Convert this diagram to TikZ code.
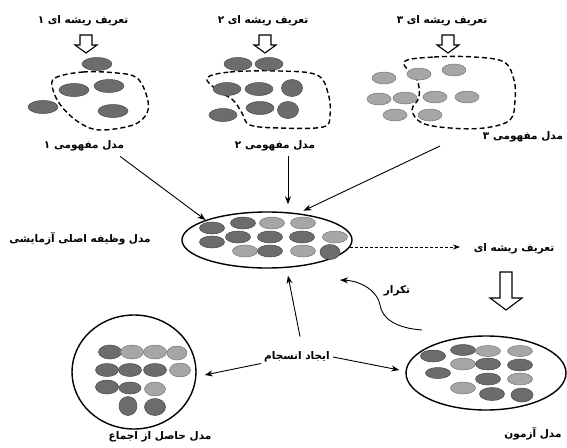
\documentclass[tikz,border=0pt]{standalone}
\usepackage{fontspec}
\usetikzlibrary{arrows.meta,shapes.geometric}
\TeXXeTstate=1
\newfontfamily\farsifont[Script=Arabic]{DejaVu Sans Bold}
\newcommand{\fatxt}[1]{{\farsifont\beginR #1\endR}}
\definecolor{dkfill}{HTML}{6C6C6C}
\definecolor{dkline}{HTML}{484848}
\definecolor{ltfill}{HTML}{A6A6A6}
\definecolor{ltline}{HTML}{787878}
\newcommand{\ball}[5]{\path[#1] (#2,#3) ellipse [x radius=#4pt, y radius=#5pt];}
\newcommand{\harrow}[6]{\draw[hollowarr] ({#1-#3},#2) -- ({#1+#3},#2) -- ({#1+#3},{#2+#4}) -- ({#1+#5},{#2+#4}) -- (#1,{#2+#4+#6}) -- ({#1-#5},{#2+#4}) -- ({#1-#3},{#2+#4}) -- cycle;}
\begin{document}
\begin{tikzpicture}[x=1pt,y=-1pt,
  lbl/.style={font=\farsifont\fontsize{10.5}{12}\selectfont, inner sep=1pt},
  dk/.style={fill=dkfill, draw=dkline, line width=0.5pt},
  lt/.style={fill=ltfill, draw=ltline, line width=0.5pt},
  blob/.style={draw, line width=1.4pt, dash pattern=on 5pt off 3pt},
  bigell/.style={ellipse, draw, line width=1.4pt, inner sep=0pt},
  arr/.style={-{Stealth[length=8pt,width=6pt]}, line width=0.9pt},
  dasharr/.style={-{Stealth[length=7pt,width=5pt]}, line width=0.8pt, dash pattern=on 3pt off 2pt},
  hollowarr/.style={draw, line width=1.1pt, fill=white}]
\useasboundingbox (0,0) rectangle (567,447);
\fill[white] (0,0) rectangle (567,447);

% ---- labels ----
\node[lbl] (r1) at (83,21) {\fatxt{تعریف ریشه ای ۱}};
\node[lbl] (r2) at (263,21) {\fatxt{تعریف ریشه ای ۲}};
\node[lbl] (r3) at (442,21) {\fatxt{تعریف ریشه ای ۳}};
\node[lbl] (m1) at (84,146) {\fatxt{مدل مفهومی ۱}};
\node[lbl] (m2) at (275,146) {\fatxt{مدل مفهومی ۲}};
\node[lbl] (m3) at (523,137) {\fatxt{مدل مفهومی ۳}};
\node[lbl] (L) at (80,239) {\fatxt{مدل وظیفه اصلی آزمایشی}};
\node[lbl] (R) at (514,249) {\fatxt{تعریف ریشه ای}};
\node[lbl] (T) at (397,291) {\fatxt{تکرار}};
\node[lbl] (E) at (297,357) {\fatxt{ایجاد انسجام}};
\node[lbl] (BL) at (160,437) {\fatxt{مدل حاصل از اجماع}};
\node[lbl] (DL) at (533,434) {\fatxt{مدل آزمون}};

% ---- hollow arrows ----
\harrow{86}{35}{6}{10}{11}{8}
\harrow{265}{35}{6}{10}{11}{8}
\harrow{448}{35}{6}{10}{11}{8}
\harrow{506}{272}{6}{26}{16}{12}

% ---- group 1 ----
\draw[blob] plot[smooth cycle, tension=0.6] coordinates {(55,78) (83,72) (117,73) (137,78) (147,97) (147,113) (133,125) (100,130) (80,123) (62,107) (53,90)};
\ball{dk}{97}{64}{15}{6.5}
\ball{dk}{74}{90}{15}{6.5}
\ball{dk}{109}{86}{15}{6.5}
\ball{dk}{43}{107}{15}{6.5}
\ball{dk}{113}{111}{15}{6.5}

% ---- group 2 ----
\draw[blob] plot[smooth cycle, tension=0.6] coordinates {(207,78) (230,72) (280,71) (317,75) (328,93) (330,115) (323,127) (280,128) (250,125) (242,113) (233,100) (217,90)};
\ball{dk}{238}{64}{14}{6.5}
\ball{dk}{269}{64}{14}{6.5}
\ball{dk}{227}{89}{14}{6.5}
\ball{dk}{259}{89}{14}{6.5}
\ball{dk}{292}{88}{10.5}{8.5}
\ball{dk}{223}{115}{14}{6.5}
\ball{dk}{260}{108}{14}{6.5}
\ball{dk}{288}{110}{10.5}{8.5}

% ---- group 3 ----
\draw[blob] plot[smooth cycle, tension=0.6] coordinates {(404,62) (434,57) (474,57) (504,62) (514,80) (515,100) (510,120) (484,128) (450,128) (422,123) (412,110) (419,97) (417,80)};
\ball{lt}{384}{78}{12}{6}
\ball{lt}{419}{74}{12}{6}
\ball{lt}{454}{70}{12}{6}
\ball{lt}{379}{99}{12}{6}
\ball{lt}{405}{98}{12}{6}
\ball{lt}{435}{97}{12}{6}
\ball{lt}{467}{97}{12}{6}
\ball{lt}{395}{115}{12}{6}
\ball{lt}{430}{115}{12}{6}

% ---- central ellipse ----
\node[bigell, minimum width=170pt, minimum height=56pt] (C) at (267,240) {};
\ball{dk}{212}{228}{12.5}{6}
\ball{dk}{243}{223}{12.5}{6}
\ball{lt}{272}{223}{12.5}{6}
\ball{lt}{303}{223}{12.5}{6}
\ball{dk}{212}{242}{12.5}{6}
\ball{dk}{238}{237}{12.5}{6}
\ball{dk}{270}{237}{12.5}{6}
\ball{dk}{302}{237}{12.5}{6}
\ball{lt}{335}{237}{12.5}{6}
\ball{lt}{245}{251}{12.5}{6}
\ball{dk}{270}{251}{12.5}{6}
\ball{lt}{303}{251}{12.5}{6}
\ball{dk}{330}{252}{10}{7.5}

% ---- bottom-left circle ----
\node[bigell, minimum width=124pt, minimum height=114pt] (B) at (134,372) {};
\ball{dk}{110}{352}{11.5}{7}
\ball{lt}{132}{352}{11.5}{7}
\ball{lt}{155}{352}{11.5}{7}
\ball{lt}{177}{353}{10}{7}
\ball{dk}{107}{370}{11.5}{6.5}
\ball{dk}{130}{370}{11.5}{6.5}
\ball{dk}{155}{370}{11.5}{6.5}
\ball{lt}{180}{370}{10.5}{7}
\ball{dk}{107}{387}{11.5}{7}
\ball{dk}{130}{388}{11}{6}
\ball{lt}{155}{389}{10.5}{7}
\ball{dk}{128}{406}{9}{9.5}
\ball{dk}{155}{407}{10.5}{8.5}

% ---- bottom-right ellipse ----
\node[bigell, minimum width=160pt, minimum height=74pt] (D) at (486,373) {};
\ball{dk}{433}{356}{12.5}{6}
\ball{dk}{463}{350}{12.5}{5.5}
\ball{lt}{488}{351}{12.5}{5.5}
\ball{lt}{520}{351}{12.5}{5.5}
\ball{lt}{463}{364}{12.5}{6}
\ball{dk}{488}{364}{12.5}{6}
\ball{dk}{520}{365}{12.5}{6}
\ball{dk}{438}{373}{12.5}{5.5}
\ball{dk}{488}{379}{12.5}{6}
\ball{lt}{520}{379}{12.5}{6}
\ball{lt}{463}{388}{12.5}{6}
\ball{dk}{492}{394}{12.5}{6.5}
\ball{dk}{522}{395}{11}{7}

% ---- connectors ----
\draw[arr] ([xshift=-5pt,yshift=-4pt]m1.south east) -- (C.162);
\draw[arr] ([xshift=13pt,yshift=-4pt]m2.south) -- ([xshift=21pt,yshift=7pt]C.north);
\coordinate (m3s) at (440,146);
\draw[arr] (m3s) -- ([xshift=-4pt,yshift=4pt]C.32);
\coordinate (dend) at (460,247);
\draw[dasharr] ([xshift=-3pt,yshift=-7pt]C.east) -- (dend);
\coordinate (cs) at (422,330);
\coordinate (ce) at (340,280);
\draw[arr] (cs) .. controls (395,328) and (382,318) .. (380,305) .. controls (378,292) and (362,281) .. (ce);
\draw[arr] ([xshift=3pt,yshift=14pt]E.north) -- ([xshift=21pt,yshift=-7pt]C.south);
\draw[arr] ([xshift=-2pt]E.south west) -- ([xshift=8pt,yshift=-3pt]B.east);
\draw[arr] ([xshift=2pt]E.east) -- ([xshift=-6pt,yshift=3pt]D.west);
\end{tikzpicture}
\end{document}
